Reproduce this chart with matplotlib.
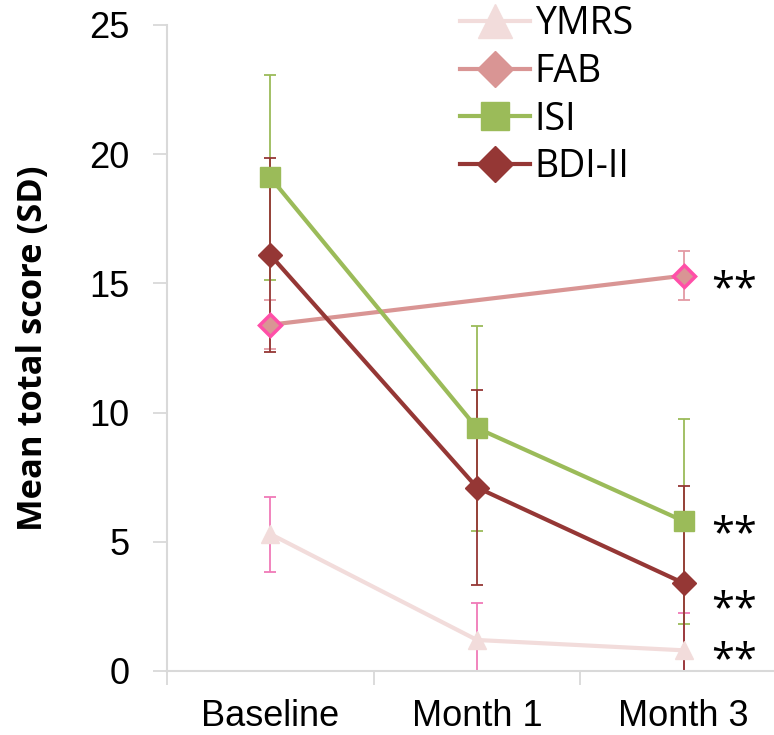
import numpy as np
import matplotlib
matplotlib.use("Agg")
import matplotlib.pyplot as plt
from matplotlib.lines import Line2D

categories = ["Baseline", "Month 1", "Month 3"]
ymrs_mean = [5.3, 1.2, 0.8]
ymrs_sd = [1.45, 1.45, 1.45]
fab_mean = [13.4, np.nan, 15.3]
fab_sd = [0.95, np.nan, 0.95]
isi_mean = [19.1, 9.4, 5.8]
isi_sd = [3.97, 3.97, 3.97]
bdi_mean = [16.1, 7.1, 3.4]
bdi_sd = [3.75, 3.77, 3.75]
yticks = [0, 5, 10, 15, 20, 25]
sig_text = "**"
# vertical position (data units) of the significance stars at Month 3
sig_y = {"FAB": 15.1, "ISI": 5.65, "BDI-II": 2.75, "YMRS": 0.77}

fig = plt.figure(figsize=(7.74, 7.35), dpi=100)
W, H = 774, 735
left, right, top, bottom = 167, 787, 25, 671
ax = fig.add_axes([left / W, 1 - bottom / H, (right - left) / W, (bottom - top) / H])
ax.set_xlim(0, 3)
ax.set_ylim(0, 25)

x = np.arange(len(categories)) + 0.5

def errs(xv, m, s, color, z):
    m = np.array(m, float); s = np.array(s, float)
    ok = ~np.isnan(m)
    lo = np.minimum(s[ok], m[ok])
    ax.errorbar(xv[ok], m[ok], yerr=[lo, s[ok]], fmt="none", ecolor=color,
                elinewidth=1.3, capsize=4.5, capthick=1.3, zorder=z, clip_on=False)

errs(x, ymrs_mean, ymrs_sd, "#f07ab8", 2)
errs(x, fab_mean, fab_sd, "#e39aa4", 2)
errs(x, isi_mean, isi_sd, "#9bbb59", 2)
errs(x, bdi_mean, bdi_sd, "#953735", 2.5)

fm = np.array(fab_mean, float)
okf = ~np.isnan(fm)
ax.plot(x, ymrs_mean, color="#f2dcdb", lw=3, marker="^", ms=13, mfc="#f2dcdb", mec="#f2dcdb", zorder=3, clip_on=False)
ax.plot(x[okf], fm[okf], color="#d99594", lw=3, marker="D", ms=11, mfc="#d99594", mec="#ff4fa8", mew=2.5, zorder=3)
ax.plot(x, isi_mean, color="#9bbb59", lw=3, marker="s", ms=14, mfc="#9bbb59", mec="#9bbb59", zorder=4)
ax.plot(x, bdi_mean, color="#953735", lw=3, marker="D", ms=12, mfc="#953735", mec="#953735", zorder=4)

for key, yv in sig_y.items():
    ax.annotate(sig_text, xy=(x[2], yv), xytext=(19.5, -15), textcoords="offset points",
                fontsize=30, family="Open Sans", va="baseline", ha="left",
                color="black", annotation_clip=False)

ax.set_yticks(yticks)
ax.set_yticklabels([str(t) for t in yticks], fontsize=26, family="Liberation Sans")
ax.set_xticks([0, 1, 2, 3])
ax.set_xticklabels([])
ax.set_xticks(x, minor=True)
ax.set_xticklabels(categories, minor=True, fontsize=26, family="Liberation Sans")
ax.tick_params(axis="x", which="minor", length=0, pad=20)
ax.tick_params(axis="x", which="major", length=10, color="#d9d9d9", width=1.3)
ax.tick_params(axis="y", length=10, color="#d9d9d9", width=1.3, pad=17)

for s in ["top", "right"]:
    ax.spines[s].set_visible(False)
for s in ["left", "bottom"]:
    ax.spines[s].set_color("#d9d9d9")
    ax.spines[s].set_linewidth(1.5)

ax.set_ylabel("Mean total score (SD)", fontsize=24.8, family="Open Sans", fontweight="bold")
ax.yaxis.set_label_coords(-0.189, 0.5)

handles = [
    Line2D([], [], color="#f2dcdb", lw=3, marker="^", ms=24, mfc="#f2dcdb", mec="#f2dcdb"),
    Line2D([], [], color="#d99594", lw=3, marker="D", ms=18, mfc="#d99594", mec="#d99594"),
    Line2D([], [], color="#9bbb59", lw=3, marker="s", ms=20, mfc="#9bbb59", mec="#9bbb59"),
    Line2D([], [], color="#953735", lw=3, marker="D", ms=18, mfc="#953735", mec="#953735"),
]
labels = ["YMRS", "FAB", "ISI", "BDI-II"]
leg = fig.legend(handles, labels, loc="upper left", bbox_to_anchor=(445 / W, 1 + 10 / H),
                 frameon=False, prop={"family": "Open Sans", "size": 27},
                 handlelength=1.87, handletextpad=0.12, labelspacing=0.26, borderaxespad=0)

fig.savefig("out.png", dpi=100)
